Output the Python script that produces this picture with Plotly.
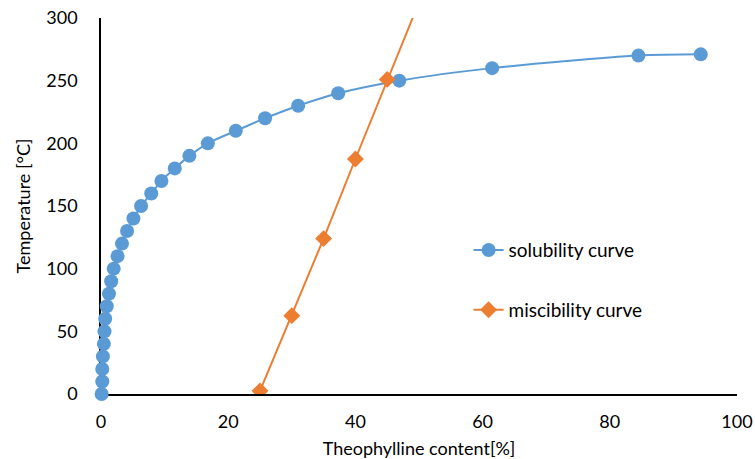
import plotly.graph_objects as go

# Solubility curve data
sol_x = [0.1, 0.2, 0.2, 0.3, 0.45, 0.55, 0.66, 0.9, 1.25, 1.6, 2.0, 2.6, 3.3, 4.1, 5.1,
         6.3, 7.9, 9.5, 11.6, 13.9, 16.8, 21.2, 25.8, 31.0, 37.3, 46.9, 61.5, 84.5, 94.3]
sol_y = [0, 10, 20, 30, 40, 50, 60, 70, 80, 90, 100, 110, 120, 130, 140,
         150, 160, 170, 180, 190, 200, 210, 220, 230, 240, 250, 260, 270, 271]

# Miscibility curve data
mis_x = [25, 30, 35, 40, 45, 50]
mis_y = [2.5, 62.5, 124, 187.5, 251, 312.5]

x_ticks = [0, 20, 40, 60, 80, 100]
y_ticks = [0, 50, 100, 150, 200, 250, 300]

BLUE = "#5B9BD5"
ORANGE = "#ED7D31"
FONT = "Lato"

fig = go.Figure()
fig.add_trace(go.Scatter(
    x=sol_x, y=sol_y, mode="lines+markers", name="solubility curve",
    line=dict(color=BLUE, width=2, shape="spline", smoothing=0.8),
    marker=dict(symbol="circle", size=14, color=BLUE),
    cliponaxis=False, legendgroup="a",
))
fig.add_trace(go.Scatter(
    x=mis_x, y=mis_y, mode="lines+markers", name="miscibility curve",
    line=dict(color=ORANGE, width=2),
    marker=dict(symbol="diamond", size=13, color=ORANGE),
    cliponaxis=True, legendgroup="b",
))

fig.update_layout(
    width=755, height=459,
    margin=dict(l=101, r=18, t=18, b=65, autoexpand=False),
    paper_bgcolor="white", plot_bgcolor="white",
    font=dict(family=FONT, size=18, color="#000000"),
    showlegend=True,
    legend=dict(x=0.578, y=0.433, xanchor="left", yanchor="top",
                font=dict(family=FONT, size=19, color="#000000"),
                tracegroupgap=32, bgcolor="rgba(0,0,0,0)"),
)
fig.update_xaxes(
    range=[0, 100], tickvals=x_ticks, ticks="", showgrid=False, zeroline=False,
    showline=True, linecolor="#000000", linewidth=1.5, layer="below traces",
    automargin=False,
    title=dict(text="Theophylline content[%]", font=dict(family=FONT, size=18), standoff=12),
    tickfont=dict(family=FONT, size=18), ticklabelstandoff=11,
)
fig.update_yaxes(
    range=[0, 300], tickvals=y_ticks, ticks="", showgrid=False, zeroline=False,
    showline=True, linecolor="#000000", linewidth=1.5, layer="below traces",
    automargin=False,
    title=dict(text="Temperature [°C]", font=dict(family=FONT, size=18), standoff=11),
    tickfont=dict(family=FONT, size=18), ticklabelstandoff=18,
)

fig.write_html("out.html")
